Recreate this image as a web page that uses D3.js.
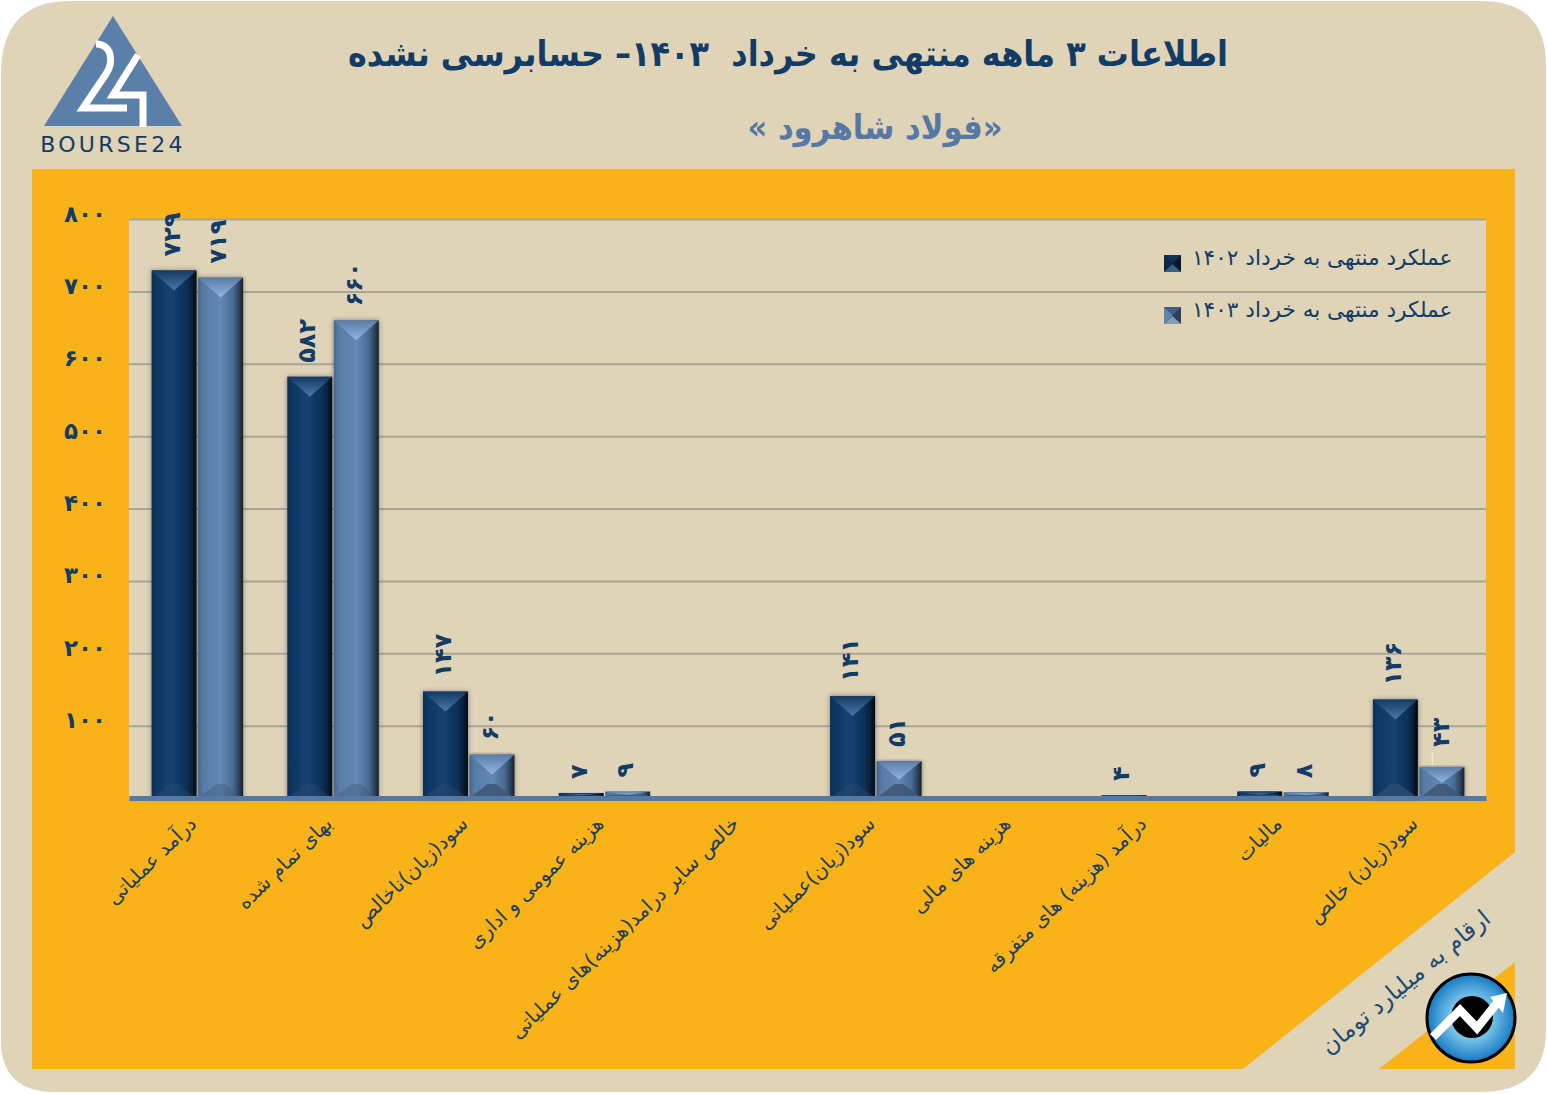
<!DOCTYPE html>
<html>
<head>
<meta charset="utf-8">
<script src="https://cdn.jsdelivr.net/npm/d3@7"></script>
<style>
html, body { margin: 0; padding: 0; background: #fff; }
svg { display: block; }
text { font-family: "DejaVu Sans", sans-serif; }
.title { font-family: "DejaVu Sans Condensed", "DejaVu Sans", sans-serif; white-space: pre; }
</style>
</head>
<body>
<div id="chart"></div>
<script>
// data
var categories = ["درآمد عملیاتی", "بهای تمام شده", "سود(زیان)ناخالص", "هزینه عمومی و اداری",
  "خالص سایر درامد(هزینه)های عملیاتی", "سود(زیان)عملیاتی", "هزینه های مالی",
  "درآمد (هزینه) های متفرقه", "مالیات", "سود(زیان) خالص"];
var values1402 = [729, 582, 147, 7, 0, 141, 0, 4, 9, 136];
var values1403 = [719, 660, 60, 9, 0, 51, 0, 0, 8, 43];
var yTicks = [100, 200, 300, 400, 500, 600, 700, 800];
var seriesNames = ["عملکرد منتهی به خرداد ۱۴۰۲", "عملکرد منتهی به خرداد ۱۴۰۳"];

const width = 1547, height = 1094;
const plot = { left: 129, right: 1486, top: 219, bottom: 798 };
const navy = "#123c66", steel = "#5579a3";

const fa = (n) => String(n).replace(/\d/g, (d) => "۰۱۲۳۴۵۶۷۸۹"[d]);

const svg = d3.select("#chart").append("svg").attr("width", width).attr("height", height);
const defs = svg.append("defs");

function gradient(id, stops, vertical) {
  const g = defs.append("linearGradient").attr("id", id);
  if (vertical) g.attr("x2", 0).attr("y2", 1);
  stops.forEach((s) => g.append("stop").attr("offset", s[0]).attr("stop-color", s[1]));
}
gradient("bar0", [[0, "#0c2e54"], [0.1, "#0f3763"], [0.45, "#144272"], [0.78, "#0c2f56"], [0.92, "#061a30"], [1, "#030b15"]]);
gradient("bar1", [[0, "#466790"], [0.12, "#587ca6"], [0.5, "#6388b4"], [0.78, "#486a92"], [0.92, "#2a3d55"], [1, "#151f2c"]]);
gradient("top0", [[0, "#143a63"], [1, "#4a7aa8"]], true);
gradient("top1", [[0, "#5a7ca6"], [1, "#92b5e3"]], true);

const shadow = defs.append("filter").attr("id", "barShadow")
  .attr("x", "-15%").attr("width", "130%").attr("y", "-5%").attr("height", "110%");
shadow.append("feDropShadow").attr("dx", 0).attr("dy", 0).attr("stdDeviation", 2.5)
  .attr("flood-color", "#3a3a3a").attr("flood-opacity", 0.55);

// card and orange panel
svg.append("path")
  .attr("d", "M70,1 H1480 Q1546,1 1546,65 V1030 Q1546,1092 1480,1092 H55 Q1,1092 1,1040 V75 Q1,1 70,1 Z")
  .attr("fill", "#dfd3b8");
svg.append("path").attr("d", "M32,169 H1515 V852 L1243,1069 H32 Z").attr("fill", "#f9b218");
svg.append("path").attr("d", "M1515,962 V1069 H1379 Z").attr("fill", "#f9b218");

// titles
svg.append("text").attr("class", "title").attr("x", 788).attr("y", 66).attr("text-anchor", "middle").attr("direction", "rtl")
  .attr("font-size", 35.5).attr("font-weight", "bold").attr("fill", navy)
  .text("اطلاعات ۳ ماهه منتهی به خرداد  ۱۴۰۳– حسابرسی نشده");
svg.append("text").attr("class", "title").attr("x", 875).attr("y", 139).attr("text-anchor", "middle").attr("direction", "rtl")
  .attr("font-size", 34).attr("font-weight", "bold").attr("fill", steel)
  .text("«فولاد شاهرود »");

// logo
const logo = svg.append("g");
logo.append("path").attr("d", "M113,16 L182,126 H44 Z").attr("fill", "#5a7fa9");
logo.append("path").attr("fill", "none").attr("stroke", "#fff").attr("stroke-width", 7)
  .attr("d", "M96,44 C112,44 114,62 106,74 L83,108 H127");
logo.append("path").attr("fill", "none").attr("stroke", "#fff").attr("stroke-width", 7)
  .attr("d", "M138,55 L113,95 H143 V127");
logo.append("text").attr("x", 113).attr("y", 152).attr("text-anchor", "middle")
  .attr("font-size", 22).attr("letter-spacing", 3.3).attr("fill", navy).text("BOURSE24");

// scales
const x0 = d3.scaleBand().domain(categories).range([plot.left, plot.right]);
const x1 = d3.scaleBand().domain([0, 1]).range([0, x0.bandwidth()]).paddingInner(0.032).paddingOuter(0.475);
const y = d3.scaleLinear().domain([0, 800]).range([plot.bottom, plot.top]);

// plot background and grid
svg.append("rect").attr("x", plot.left).attr("y", plot.top)
  .attr("width", plot.right - plot.left).attr("height", plot.bottom - plot.top).attr("fill", "#dfd3b8");

const yAxis = d3.axisLeft(y).tickValues(yTicks).tickSize(plot.left - plot.right).tickPadding(23).tickFormat(fa);
const yGroup = svg.append("g").attr("transform", `translate(${plot.left},0)`).call(yAxis);
yGroup.select(".domain").remove();
yGroup.selectAll(".tick line").attr("stroke", "#a9a594").attr("stroke-width", 2);
yGroup.selectAll(".tick text").attr("fill", navy).attr("font-size", 23).attr("font-weight", "bold")
  .attr("dy", "2").style("font-family", '"DejaVu Sans", sans-serif');

// bars
const rows = [];
categories.forEach((c, i) => {
  [values1402[i], values1403[i]].forEach((v, s) => rows.push({ c, v, s }));
});

const bars = svg.append("g").selectAll("g").data(rows).join("g")
  .attr("transform", (d) => `translate(${x0(d.c) + x1(d.s) + 0.5},${y(d.v)})`);

bars.append("rect")
  .attr("width", x1.bandwidth())
  .attr("height", (d) => y(0) - y(d.v))
  .attr("fill", (d) => `url(#bar${d.s})`)
  .attr("filter", (d) => d.v > 20 ? "url(#barShadow)" : null);

// bevel: light wedge at the top, flat one at the foot of the bar
function topWedge(d) {
  const w = x1.bandwidth(), h = y(0) - y(d.v), b = Math.min(20, h / 2);
  return `M0,0 H${w} L${w / 2},${b} Z`;
}
function footWedge(d) {
  const w = x1.bandwidth(), h = y(0) - y(d.v), b = Math.min(14, h / 2), inset = Math.min(w / 2, b * 1.3);
  return `M0,${h} H${w} L${w - inset},${h - b} H${inset} Z`;
}
bars.append("path").attr("d", topWedge).attr("fill", (d) => `url(#top${d.s})`);
bars.append("path").attr("d", footWedge)
  .attr("fill", (d) => d.s ? "#3f5878" : "#2a4a70")
  .attr("opacity", (d) => y(0) - y(d.v) > 100 ? 0.4 : 0.9);

// the 43 label is pushed up off its bar, with a faint leader line
const liftLabel = (d) => (d.v == 43 ? 6 : 0);
const shiftLabel = (d) => (d.v == 43 ? 2 : 0);
svg.append("g").selectAll("line").data(rows.filter((d) => d.v == 43)).join("line")
  .attr("x1", (d) => x0(d.c) + x1(d.s) + x1.bandwidth() / 2 - 9)
  .attr("x2", (d) => x0(d.c) + x1(d.s) + x1.bandwidth() / 2 - 9)
  .attr("y1", (d) => y(d.v) - 15).attr("y2", (d) => y(d.v) - 2)
  .attr("stroke", "#efe8d8").attr("stroke-width", 1.5);

// value labels, skip the empty ones
svg.append("g").selectAll("text").data(rows.filter((d) => d.v > 0)).join("text")
  .attr("transform", (d) => `translate(${x0(d.c) + x1(d.s) + x1.bandwidth() / 2 + 6 + shiftLabel(d)},${y(d.v) - 14 - liftLabel(d)}) rotate(-90)`)
  .attr("fill", navy).attr("font-size", 24).attr("font-weight", "bold")
  .text((d) => fa(d.v));

// x axis
const xAxis = d3.axisBottom(x0).tickSize(0).tickPadding(0);
const xGroup = svg.append("g").attr("transform", `translate(0,${plot.bottom})`).call(xAxis);
xGroup.select(".domain").attr("stroke", steel).attr("stroke-width", 5);
xGroup.selectAll(".tick text")
  .attr("text-anchor", "end").attr("direction", "ltr").attr("fill", "#1c3f5c").attr("font-size", 20)
  .attr("transform", "translate(-9,17) rotate(-44)")
  .style("font-family", '"DejaVu Sans", sans-serif');

// legend
const legend = svg.append("g").selectAll("g").data(seriesNames).join("g")
  .attr("transform", (d, i) => `translate(1164,${255 + i * 52})`);
legend.append("rect").attr("width", 17).attr("height", 17).attr("fill", (d, i) => i ? "#3f5d80" : "#0f3358");
legend.append("path").attr("d", "M0,0 L8.5,8.5 L0,17 Z").attr("fill", (d, i) => i ? "#5f86b2" : "#0b2947");
legend.append("path").attr("d", "M17,0 L8.5,8.5 L17,17 Z").attr("fill", (d, i) => i ? "#2b3f58" : "#06192c");
legend.append("path").attr("d", "M0,17 L8.5,9.5 L17,17 Z").attr("fill", (d, i) => i ? "#8a9bb0" : "#3d5f85");
legend.append("text").attr("x", 28).attr("y", 10).attr("fill", navy).attr("font-size", 21.6)
  .attr("direction", "rtl").attr("text-anchor", "end").text((d) => d);

// unit note
svg.append("text").attr("transform", "translate(1492,921) rotate(-39.5)").attr("text-anchor", "start")
  .attr("direction", "rtl").attr("fill", "#1e4a74").attr("font-size", 23.5).text("ارقام به میلیارد تومان");

// badge
const badge = svg.append("g").attr("transform", "translate(1471,1018)");
const rg = defs.append("radialGradient").attr("id", "badge");
rg.append("stop").attr("offset", 0.35).attr("stop-color", "#8fd6f4");
rg.append("stop").attr("offset", 1).attr("stop-color", "#1579c2");
badge.append("circle").attr("r", 44).attr("fill", "url(#badge)").attr("stroke", "#000").attr("stroke-width", 3);
badge.append("circle").attr("cx", 1).attr("cy", -1).attr("r", 21).attr("fill", "#000");
badge.append("path").attr("fill", "none").attr("stroke", "#fff").attr("stroke-width", 8.5)
  .attr("d", "M-38,19 L-11,-8 L6,10 L26,-15");
badge.append("path").attr("fill", "#fff").attr("d", "M19,-21 L36,-25 L32,-5 Z");
</script>
</body>
</html>
